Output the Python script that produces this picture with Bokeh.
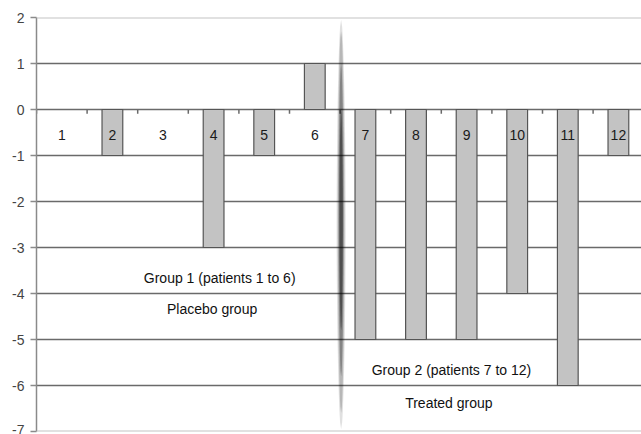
import numpy as np
from bokeh.plotting import figure
from bokeh.models import Range1d, FixedTicker, Span, ColumnDataSource
from bokeh.core.properties import value
from bokeh.embed import file_html
from bokeh.resources import INLINE

# ---- data ----
patients = ["1", "2", "3", "4", "5", "6", "7", "8", "9", "10", "11", "12"]
scores = [0, -1, 0, -3, -1, 1, -5, -5, -5, -4, -6, -1]
y_ticks = [-7, -6, -5, -4, -3, -2, -1, 0, 1, 2]
y_tick_labels = ["-7", "-6", "-5", "-4", "-3", "-2", "-1", "0", "1", "2"]
group1_title = "Group 1 (patients 1 to 6)"
group1_sub = "Placebo group"
group2_title = "Group 2 (patients 7 to 12)"
group2_sub = "Treated group"

FONT = "Liberation Sans"
PX_PER_CAT = 50.6
FRAME_W = 605

xpos = list(range(1, len(patients) + 1))

p = figure(width=641, height=434, output_backend="svg", toolbar_location=None,
           x_range=Range1d(0.5, 0.5 + FRAME_W / PX_PER_CAT),
           y_range=Range1d(-7, 2), x_axis_location=None,
           min_border_left=36, min_border_right=0, min_border_top=17,
           min_border_bottom=3)
p.outline_line_color = None
p.background_fill_color = "white"
p.border_fill_color = "white"

# y axis
p.yaxis.ticker = FixedTicker(ticks=y_ticks)
p.yaxis.major_label_overrides = {t: s for t, s in zip(y_ticks, y_tick_labels)}
p.yaxis.axis_line_color = "#8a8a8a"
p.yaxis.axis_line_width = 1.5
p.yaxis.major_tick_line_color = "#8a8a8a"
p.yaxis.major_tick_line_width = 1.5
p.yaxis.major_tick_out = 6
p.yaxis.major_tick_in = 0
p.yaxis.minor_tick_line_color = None
p.yaxis.major_label_standoff = 6
p.yaxis.major_label_text_font = FONT
p.yaxis.major_label_text_font_size = "14px"
p.yaxis.major_label_text_color = "#444444"

# grid
p.xgrid.grid_line_color = None
p.ygrid.ticker = FixedTicker(ticks=[t for t in y_ticks if t not in (min(y_ticks), max(y_ticks))])
p.ygrid.grid_line_color = "#6a6a6a"
p.ygrid.grid_line_width = 1.5
for yv in (min(y_ticks), max(y_ticks)):
    p.add_layout(Span(location=yv, dimension="width", line_color="#c4c4c4", line_width=2))

# tick marks on zero line at category boundaries
bounds = [i + 0.5 for i in range(0, len(patients) + 1)]
p.segment(x0=bounds, y0=[0] * len(bounds), x1=bounds, y1=[-0.09] * len(bounds),
          line_color="#6a6a6a", line_width=1.5)

# bars
src = ColumnDataSource(dict(x=[x for x, v in zip(xpos, scores) if v != 0],
                            top=[v for v in scores if v != 0]))
p.vbar(x="x", top="top", bottom=0, width=0.41, source=src,
       fill_color="#c3c3c3", line_color="#555555", line_width=1.2)

# category labels
p.text(x=xpos, y=[-0.565] * len(xpos), text=patients, text_font=value(FONT),
       text_font_size="14px", text_color="#1a1a1a", text_align="center",
       text_baseline="alphabetic")

# separator between groups (soft dark lens)
sep_x = 6.52
layers = [  # (y_top, y_bottom, half width px, alpha)
    (1.95, -6.95, 4.5, 0.12),
    (1.7, -6.6, 3.4, 0.18),
    (1.0, -5.8, 2.5, 0.28),
    (0.0, -4.8, 1.7, 0.4),
]
xs_list, ys_list, alphas = [], [], []
for yt, yb, hw, a in layers:
    t = np.linspace(0, 1, 60)
    yy = yt + (yb - yt) * t
    w = (hw / PX_PER_CAT) * np.sin(np.pi * t) ** 0.5
    xs_list.append(list(sep_x - w) + list((sep_x + w)[::-1]))
    ys_list.append(list(yy) + list(yy[::-1]))
    alphas.append(a)
p.patches(xs=xs_list, ys=ys_list, fill_color="black", fill_alpha=alphas, line_color=None)

# annotations
p.text(x=[4.12, 3.97], y=[-3.67, -4.33], text=[group1_title, group1_sub],
       text_font=value(FONT), text_font_size="14px", text_color="#111111",
       text_align="center", text_baseline="alphabetic")
p.text(x=[8.70, 8.65], y=[-5.67, -6.37], text=[group2_title, group2_sub],
       text_font=value(FONT), text_font_size="14px", text_color="#111111",
       text_align="center", text_baseline="alphabetic")

open("out.html", "w").write(file_html(p, INLINE))
